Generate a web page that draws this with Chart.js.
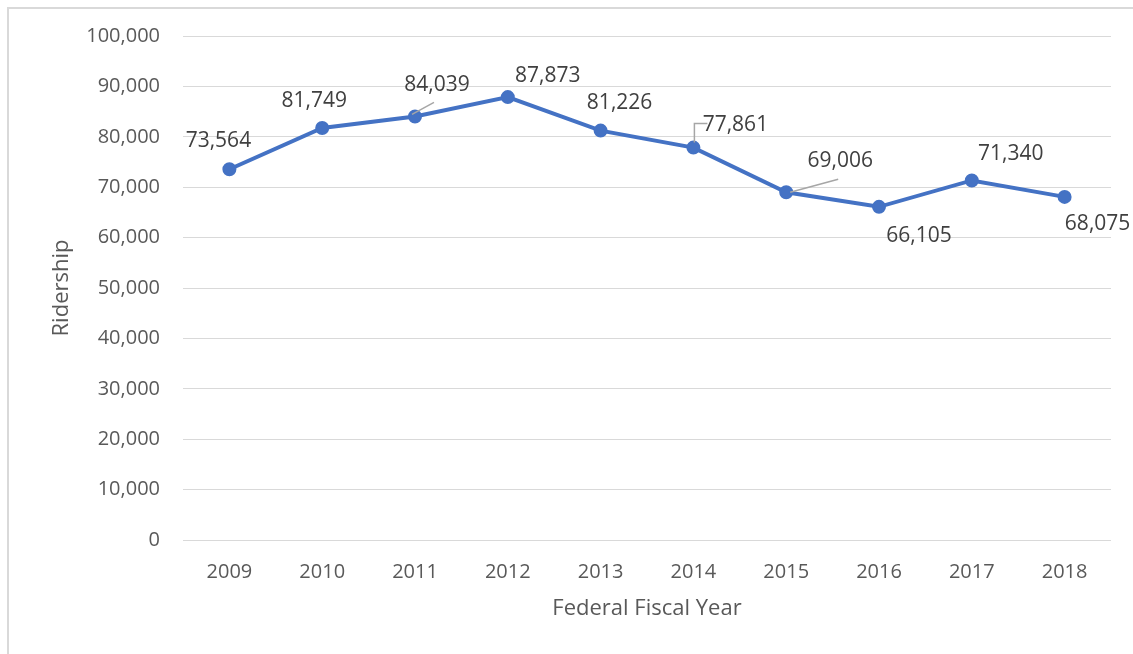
<!DOCTYPE html>
<html>
<head>
<meta charset="utf-8">
<script src="https://cdn.jsdelivr.net/npm/chart.js@4.4.1/dist/chart.umd.min.js"></script>
<style>
  html, body { margin: 0; padding: 0; background: #fff; overflow: hidden; }
  #frame { position: absolute; left: 7px; top: 7px; width: 3000px; height: 3000px; border: 2px solid #d9d9d9; box-sizing: border-box; }
  #c { position: absolute; left: 0; top: 0; }
</style>
</head>
<body>
<div id="frame"></div>
<canvas id="c" width="1133" height="654"></canvas>
<script>
const categories = ['2009','2010','2011','2012','2013','2014','2015','2016','2017','2018'];
const ridership = [73564, 81749, 84039, 87873, 81226, 77861, 69006, 66105, 71340, 68075];
const yTicks = [0, 10000, 20000, 30000, 40000, 50000, 60000, 70000, 80000, 90000, 100000];

const FONT = "'Open Sans', 'Noto Sans', sans-serif";

// label placement (style): offset of label centre from point, and optional leader line
const labelOffsets = [
  [-11, -28], [-8, -27], [22, -31], [40, -21], [19, -28],
  [42, -23], [54, -31], [40, 29], [39, -26], [33, 27]
];
const leaders = {
  2: [[-3, -2], [19, -14]],
  5: [[1, -5], [1, -24], [14, -24]],
  6: [[4, 0], [52, -13]]
};

const labelPlugin = {
  id: 'pointLabels',
  afterDatasetsDraw(chart) {
    const ctx = chart.ctx;
    const meta = chart.getDatasetMeta(0);
    ctx.save();
    meta.data.forEach((pt, i) => {
      const lp = leaders[i];
      if (lp) {
        ctx.beginPath();
        ctx.strokeStyle = '#a6a6a6';
        ctx.lineWidth = 1.5;
        lp.forEach((p, k) => {
          const x = pt.x + p[0], y = pt.y + p[1];
          if (k === 0) ctx.moveTo(x, y); else ctx.lineTo(x, y);
        });
        ctx.stroke();
      }
      const v = chart.data.datasets[0].data[i];
      ctx.font = '21px ' + FONT;
      ctx.fillStyle = '#404040';
      ctx.textAlign = 'center';
      ctx.textBaseline = 'middle';
      ctx.fillText(v.toLocaleString('en-US'), pt.x + labelOffsets[i][0], pt.y + labelOffsets[i][1]);
    });
    ctx.restore();
  }
};

new Chart(document.getElementById('c'), {
  type: 'line',
  data: {
    labels: categories,
    datasets: [{
      data: ridership,
      borderColor: '#4472C4',
      backgroundColor: '#4472C4',
      borderWidth: 4,
      pointRadius: 6,
      pointBorderWidth: 2,
      pointBackgroundColor: '#4472C4',
      pointBorderColor: '#4472C4',
      tension: 0
    }]
  },
  options: {
    responsive: false,
    animation: false,
    events: [],
    layout: { padding: { left: 0, right: 22, top: 36, bottom: 32 } },
    plugins: { legend: { display: false }, tooltip: { enabled: false } },
    scales: {
      x: {
        offset: true,
        grid: { display: false, drawTicks: false },
        border: { display: false },
        ticks: { color: '#595959', font: { family: FONT, size: 20 }, padding: 20, maxRotation: 0 },
        title: { display: true, text: 'Federal Fiscal Year', color: '#595959', font: { family: FONT, size: 22 }, padding: { top: 8, bottom: 0 } },
        afterFit: s => { s.height = 82; }
      },
      y: {
        min: 0, max: 100000,
        afterBuildTicks: s => { s.ticks = yTicks.map(v => ({ value: v })); },
        grid: { color: '#d9d9d9', lineWidth: 1, drawTicks: false },
        border: { display: false },
        ticks: { color: '#595959', font: { family: FONT, size: 20 }, padding: 23,
                 callback: v => v.toLocaleString('en-US') },
        title: { display: true, text: 'Ridership', color: '#595959', font: { family: FONT, size: 22 }, padding: { top: 49, bottom: 0 } },
        afterFit: s => { s.width = 183; }
      }
    }
  },
  plugins: [labelPlugin]
});
</script>
</body>
</html>
